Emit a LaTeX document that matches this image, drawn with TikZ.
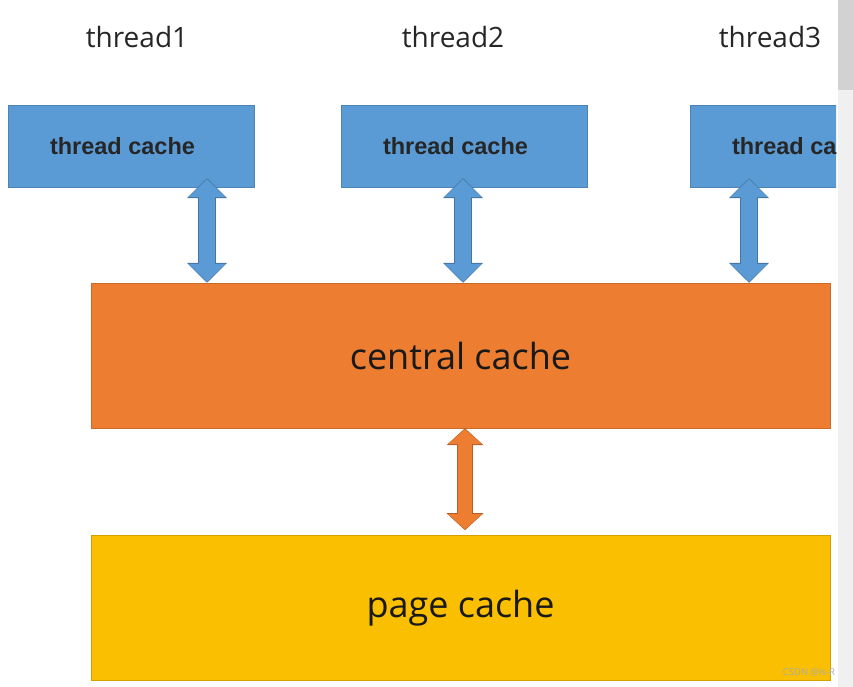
\documentclass[tikz,border=0pt]{standalone}
\usepackage{fontspec}
\setmainfont{Open Sans}
\newfontfamily\boxfont{Liberation Sans}
\usetikzlibrary{positioning,arrows.meta}
\definecolor{tblue}{HTML}{5B9BD5}
\definecolor{corange}{HTML}{ED7D31}
\definecolor{pyellow}{HTML}{F9BF00}

\begin{document}
\begin{tikzpicture}[
    x=1pt, y=-1pt,
    tlabel/.style={font=\fontsize{28}{32}\selectfont, text=black!85},
    tcache/.style={rectangle, draw=tblue!85!black, fill=tblue, inner sep=0pt, minimum width=246pt, minimum height=82pt, font=\boxfont\bfseries\fontsize{23.5}{28}\selectfont, text=black!85},
    bigbox/.style={rectangle, inner sep=0pt, minimum width=739pt, minimum height=145pt, font=\fontsize{36}{40}\selectfont, text=black!90},
    blueedge/.style={line width=18pt, draw=tblue!75!black, {Triangle[length=20pt,width=39pt]}-{Triangle[length=20pt,width=39pt]}},
    bluearrow/.style={line width=16pt, draw=tblue, {Triangle[length=18pt,width=36pt]}-{Triangle[length=18pt,width=36pt]}},
    orangeedge/.style={line width=16pt, draw=corange!75!black, {Triangle[length=17pt,width=36pt]}-{Triangle[length=17pt,width=36pt]}},
    orangearrow/.style={line width=14pt, draw=corange, {Triangle[length=15pt,width=33pt]}-{Triangle[length=15pt,width=33pt]}}
]
\useasboundingbox (0,0) rectangle (853,687);

% Scroll bar
\fill[gray!12] (838,0) rectangle (853,687);
\fill[gray!35] (838,0) rectangle (853,90);

% Central and page cache
\node[bigbox, draw=corange!85!black, fill=corange] (central) at (460.5,355.5) {central cache};
\node[bigbox, draw=pyellow!85!black, fill=pyellow, below=107pt of central] (page) {page cache};

% Thread caches
\begin{scope}
\clip (0,0) rectangle (836,687);
\node[tcache] (tc1) at (131,146) {\hspace*{-17pt}thread cache};
\node[tcache] (tc2) at (464,146) {\hspace*{-17pt}thread cache};
\node[tcache] (tc3) at (813,146) {\hspace*{-17pt}thread cache};
\end{scope}

% Threads
\node[tlabel] (t1) at (137,37) {thread1};
\node[tlabel] (t2) at (453,37) {thread2};
\node[tlabel] (t3) at (770,37) {thread3};

% Arrows
\foreach \tc/\dx in {tc1/76, tc2/-1, tc3/-64} {
  \draw[blueedge] ([xshift=\dx pt,yshift=9pt]\tc.south) -- ([xshift=\dx pt]\tc.south |- central.north);
  \draw[bluearrow] ([xshift=\dx pt,yshift=8pt]\tc.south) -- ([xshift=\dx pt,yshift=1pt]\tc.south |- central.north);
}
\draw[orangeedge] ([xshift=4.5pt]central.south) -- ([xshift=4.5pt,yshift=5pt]central.south |- page.north);
\draw[orangearrow] ([xshift=4.5pt,yshift=-1pt]central.south) -- ([xshift=4.5pt,yshift=6pt]central.south |- page.north);

% Watermark
\node[font=\fontsize{9.5}{11}\selectfont, text=gray!65!white] (mark) at (809,672) {CSDN @ls-R};

\end{tikzpicture}
\end{document}
